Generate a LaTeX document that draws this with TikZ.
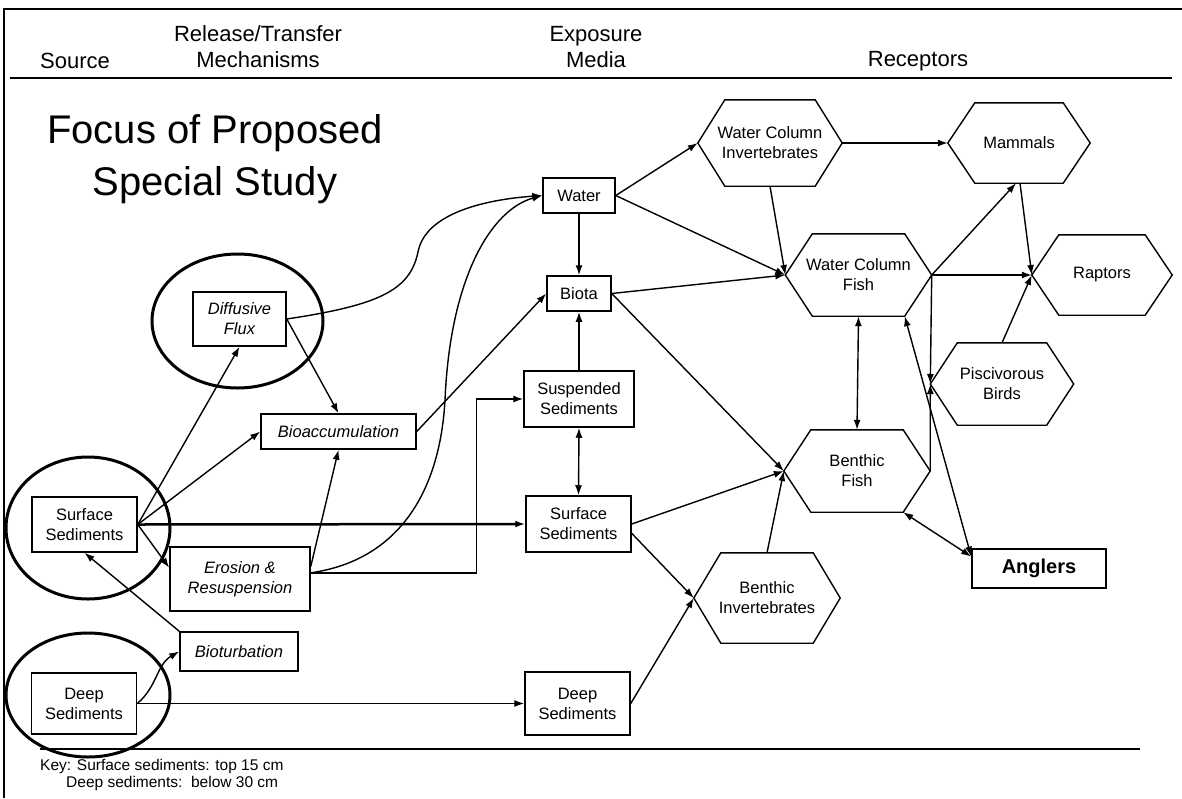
\documentclass[tikz,border=0pt]{standalone}
\usepackage{fontspec}
\setmainfont{Liberation Sans}
\usetikzlibrary{arrows,arrows.meta}
% hexagon outline round a (borderless) receptor node
\newcommand{\hexa}[2][27]{%
  \draw[line width=1.4] (#2.west) -- ([xshift=#1]#2.north west) -- ([xshift=-#1]#2.north east)
    -- (#2.east) -- ([xshift=-#1]#2.south east) -- ([xshift=#1]#2.south west) -- cycle;}

\begin{document}
\begin{tikzpicture}[x=1pt,y=1pt,>={Latex[length=10pt,width=7pt]},
		heading/.style={align=center,font=\fontsize{22}{26}\selectfont},
		media/.style={draw,line width=1.5,align=center,inner sep=1,font=\fontsize{16.5}{20}\selectfont},
		mech/.style={media,font=\fontsize{16.5}{20}\selectfont\itshape},
		recept/.style={align=center,inner sep=1,font=\fontsize{16.5}{20}\selectfont},
		keytext/.style={anchor=west,inner sep=0,font=\fontsize{15.5}{19}\selectfont},
		link/.style={->,line width=1.4},
		twoway/.style={<->,line width=1.4},
		focus/.style={line width=3}]
		\useasboundingbox (0,0) rectangle (1182,-798);
		% frame and rules
		\draw[line width=1.5] (4,-798) -- (4,-9) -- (1182,-9);
		\draw[line width=2.5] (10,-78) -- (1172,-78);
		\draw[line width=2] (40,-749) -- (1140,-749);
		% headings
		\node[heading] (hsrc) at (75,-61) {Source};
		\node[heading] (hrel) at (258,-47) {Release/Transfer\\Mechanisms};
		\node[heading] (hexp) at (596,-47) {Exposure\\Media};
		\node[heading] (hrec) at (918,-61) {Receptors};
		\node[align=center,font=\fontsize{40}{52}\selectfont] (title) at (215,-159) {Focus of Proposed\\Special Study};
		% source
		\node[media,minimum width=105,minimum height=55] (ssrc) at (84.5,-524.5) {Surface\\Sediments};
		\node[media,minimum width=105,minimum height=61] (dsrc) at (84,-703.5) {Deep\\Sediments};
		% release / transfer
		\node[mech,minimum width=93,minimum height=54] (dflux) at (239.5,-319) {Diffusive\\Flux};
		\node[mech,minimum width=155,minimum height=35] (bioacc) at (338.5,-431.5) {Bioaccumulation};
		\node[mech,minimum width=140,minimum height=64] (eros) at (240,-579) {Erosion \&\\Resuspension};
		\node[mech,minimum width=118,minimum height=39] (biot) at (239,-651.5) {Bioturbation};
		% exposure media
		\node[media,minimum width=72,minimum height=35] (water) at (579,-195.5) {Water};
		\node[media,minimum width=64,minimum height=35] (biota) at (579,-293.5) {Biota};
		\node[media,minimum width=110,minimum height=56] (susp) at (579,-399) {Suspended\\Sediments};
		\node[media,minimum width=105,minimum height=56] (smed) at (578.5,-524) {Surface\\Sediments};
		\node[media,minimum width=105,minimum height=63] (dmed) at (577.5,-703.5) {Deep\\Sediments};
		% receptors
		\node[recept,minimum width=144,minimum height=86] (wci) at (770,-143) {Water Column\\Invertebrates};
		\node[recept,minimum width=142,minimum height=80] (mam) at (1019,-143) {Mammals};
		\node[recept,minimum width=146,minimum height=82] (wcf) at (858.5,-275) {Water Column\\Fish};
		\node[recept,minimum width=140,minimum height=80] (rap) at (1102,-275) {Raptors};
		\node[recept,minimum width=143,minimum height=82] (pisc) at (1002,-384) {Piscivorous\\Birds};
		\node[recept,minimum width=146,minimum height=82] (bfish) at (857,-471) {Benthic\\Fish};
		\node[recept,minimum width=146,minimum height=90] (binv) at (767,-598) {Benthic\\Invertebrates};
		\node[draw,line width=1.5,minimum width=134,minimum height=39,font=\fontsize{20}{24}\selectfont\bfseries] (ang) at (1039,-568.5) {Anglers};
		\foreach \h in {wci,mam,wcf,rap,pisc,bfish,binv} \hexa{\h};
		% focus of the special study
		\draw[focus] (237.5,-321) ellipse [x radius=85.5, y radius=67];
		\draw[focus] (88,-528) ellipse [x radius=82, y radius=71];
		\draw[focus] (88,-695) ellipse [x radius=82, y radius=62];
		% source -> mechanisms
		\draw[link] (ssrc.east) -- (dflux.south);
		\draw[link] (ssrc.east) -- (bioacc.west);
		\draw[link,line width=2.5] (ssrc.east) -- (smed.west);
		\draw[link] (ssrc.east) -- (eros.171);
		\draw[link] (biot.north west) -- (ssrc.south);
		\draw[link] (dsrc.east) to[out=40,in=210] (biot.west);
		\draw[link] (dsrc.east) -- (dmed.west);
		% mechanisms -> media
		\draw[link] (dflux.east) .. controls (380,-305) and (410,-290) .. (418,-252)
			.. controls (425,-215) and (480,-200) .. (water.west);
		\draw[link] (dflux.east) -- (bioacc.north);
		\draw[link] (eros.10) -- (bioacc.south);
		\draw[link] (eros.5) .. controls (400,-560) and (440,-490) .. (445,-400)
			.. controls (450,-280) and (490,-210) .. (water.west);
		\draw[link] (eros.5) -- ++(166,0) |- (susp.west);
		\draw[link] (bioacc.east) -- (biota.west);
		% media
		\draw[link] (water.south) -- (biota.north);
		\draw[link] (susp.north) -- (biota.south);
		\draw[twoway] (susp.south) -- (smed.north);
		% media -> receptors
		\draw[link] (water.east) -- (wci.west);
		\draw[link] (water.east) -- (wcf.west);
		\draw[link] (biota.east) -- (wcf.west);
		\draw[link] (biota.east) -- (bfish.west);
		\draw[link] (smed.east) -- (bfish.west);
		\draw[link] (smed.-10) -- (binv.west);
		\draw[link] (dmed.east) -- (binv.west);
		% receptors
		\draw[link] (binv.north) -- (bfish.west);
		\draw[link] (wci.south) -- (wcf.west);
		\draw[link] (wci.east) -- (mam.west);
		\draw[link] (wcf.east) -- ([xshift=-3]mam.south);
		\draw[link] ([xshift=1]mam.south) -- (rap.west);
		\draw[link] (wcf.east) -- (rap.west);
		\draw[link] (pisc.north) -- (rap.west);
		\draw[link] (wcf.east) -- (pisc.west);
		\draw[link] (bfish.east) -- (pisc.west);
		\draw[twoway] (wcf.south) -- (bfish.north);
		\draw[twoway] ([xshift=-27]wcf.south east) -- (ang.170);
		\draw[twoway] ([xshift=-27]bfish.south east) -- (ang.170);
		% key
		\node[keytext] (key1) at (40,-766) {Key: Surface sediments: top 15 cm};
		\node[keytext] (key2) at (66,-783) {Deep sediments:\ \ below 30 cm};
\end{tikzpicture}
\end{document}
